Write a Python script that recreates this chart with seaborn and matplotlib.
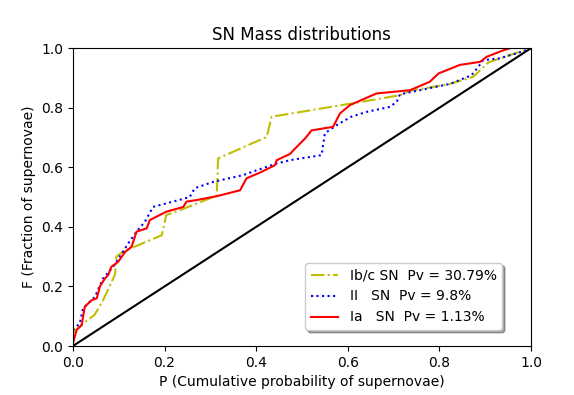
import numpy as np
import pandas as pd
import matplotlib
matplotlib.use("Agg")
import matplotlib.pyplot as plt
import seaborn as sns

# Ib/c SN cumulative curve (P, F)
ibc_p = [0.0, 0.026, 0.047, 0.066, 0.092, 0.095, 0.103, 0.114, 0.194, 0.204, 0.24,
         0.314, 0.317, 0.423, 0.434, 0.474, 0.63, 0.714, 0.736, 0.823, 0.874, 0.907, 0.95, 1.0]
ibc_f = [0.044, 0.08, 0.104, 0.154, 0.24, 0.30, 0.31, 0.32, 0.372, 0.44, 0.46,
         0.505, 0.63, 0.702, 0.77, 0.78, 0.82, 0.842, 0.857, 0.88, 0.904, 0.952, 0.975, 1.0]

# II SN
ii_p = [0.0, 0.015, 0.022, 0.048, 0.066, 0.088, 0.121, 0.139, 0.157, 0.175, 0.204, 0.255,
        0.266, 0.306, 0.372, 0.401, 0.445, 0.474, 0.543, 0.55, 0.576, 0.608, 0.641, 0.692,
        0.707, 0.714, 0.823, 0.87, 0.885, 0.896, 0.932, 0.969, 0.99, 1.0]
ii_f = [0.054, 0.076, 0.126, 0.165, 0.227, 0.266, 0.345, 0.384, 0.417, 0.467, 0.479, 0.50,
        0.53, 0.551, 0.574, 0.59, 0.613, 0.624, 0.641, 0.714, 0.742, 0.77, 0.786, 0.803,
        0.82, 0.845, 0.88, 0.909, 0.937, 0.96, 0.966, 0.983, 0.993, 1.0]

# Ia SN
ia_p = [0.0, 0.008, 0.019, 0.026, 0.041, 0.052, 0.059, 0.07, 0.077, 0.084, 0.099, 0.114,
        0.128, 0.139, 0.161, 0.168, 0.204, 0.241, 0.248, 0.27, 0.314, 0.365, 0.379, 0.408,
        0.441, 0.445, 0.474, 0.485, 0.507, 0.521, 0.568, 0.583, 0.605, 0.63, 0.663, 0.736,
        0.779, 0.798, 0.845, 0.889, 0.903, 0.94, 0.955]
ia_f = [0.009, 0.054, 0.07, 0.132, 0.154, 0.16, 0.2, 0.227, 0.238, 0.266, 0.283, 0.316,
        0.333, 0.384, 0.395, 0.423, 0.451, 0.467, 0.485, 0.49, 0.503, 0.523, 0.563, 0.582,
        0.607, 0.624, 0.645, 0.663, 0.697, 0.724, 0.736, 0.781, 0.809, 0.826, 0.848, 0.859,
        0.887, 0.915, 0.944, 0.954, 0.971, 0.993, 1.0]

labels = ["Ib/c SN  Pv = 30.79%", "II   SN  Pv = 9.8%", "Ia   SN  Pv = 1.13%"]

fig = plt.figure(figsize=(5.74, 3.95), dpi=100)
ax = fig.add_axes([0.127, 0.124, 0.798, 0.754])

sns.lineplot(x=ibc_p, y=ibc_f, sort=False, estimator=None, color="y", linestyle="-.",
             linewidth=1.5, label=labels[0], ax=ax)
sns.lineplot(x=ii_p, y=ii_f, sort=False, estimator=None, color="b", linestyle=":",
             linewidth=1.5, label=labels[1], ax=ax)
sns.lineplot(x=ia_p, y=ia_f, sort=False, estimator=None, color="r", linestyle="-",
             linewidth=1.5, label=labels[2], ax=ax)
ax.plot([0, 1], [0, 1], color="k", linewidth=1.5)

ax.set_xlim(0, 1)
ax.set_ylim(0, 1)
ax.set_title("SN Mass distributions")
ax.set_xlabel("P (Cumulative probability of supernovae)")
ax.set_ylabel("F (Fraction of supernovae)")
ax.legend(loc="lower right", bbox_to_anchor=(0.937, 0.054), borderaxespad=0, shadow=True)

fig.savefig("out.png", dpi=100)
